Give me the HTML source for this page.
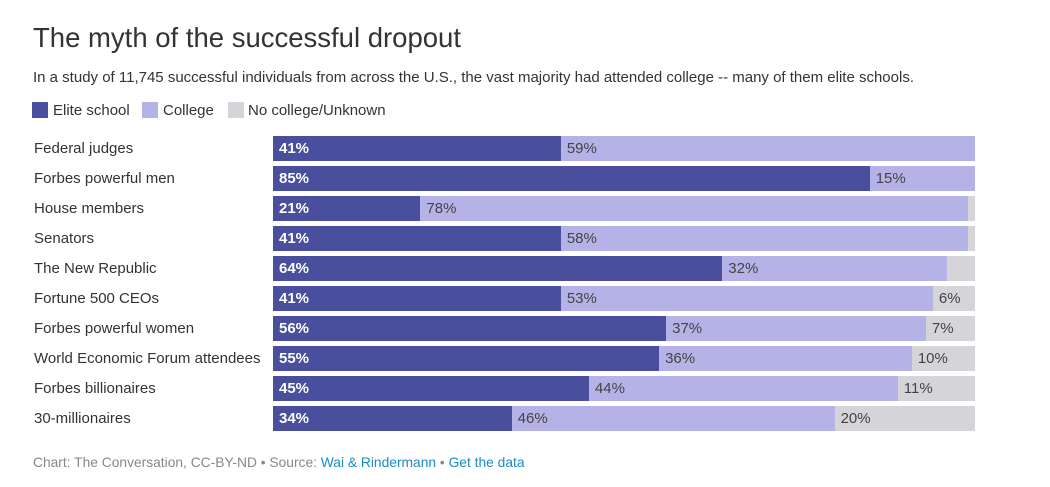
<!DOCTYPE html>
<html><head><meta charset="utf-8"><style>
body{margin:0;background:#fff;font-family:"Liberation Sans",sans-serif;width:1050px;height:487px;overflow:hidden;position:relative}
.t{position:absolute;white-space:nowrap}
</style></head><body>
<div class="t" style="left:33px;top:22px;font-size:27.5px;color:#333">The myth of the successful dropout</div>
<div class="t" style="left:33px;top:69px;font-size:15px;color:#333">In a study of 11,745 successful individuals from across the U.S., the vast majority had attended college -- many of them elite schools.</div>
<div style="position:absolute;left:32px;top:102px;font-size:15px;color:#333">
<span style="position:absolute;left:0;top:0;width:16px;height:16px;background:#494f9c"></span><span class="t" style="left:21px;top:0px">Elite school</span>
<span style="position:absolute;left:110px;top:0;width:16px;height:16px;background:#b4b2e6"></span><span class="t" style="left:131px;top:0px">College</span>
<span style="position:absolute;left:196px;top:0;width:16px;height:16px;background:#d5d5d9"></span><span class="t" style="left:216px;top:0px">No college/Unknown</span>
</div>
<div id="chart"></div>
<div class="t" style="left:33px;top:455px;font-size:13.8px;color:#888">Chart: The Conversation, CC-BY-ND • Source: <span style="color:#1a8bc4">Wai &amp; Rindermann</span> • <span style="color:#1a8bc4">Get the data</span></div>
<script>
const categories=["Federal judges","Forbes powerful men","House members","Senators","The New Republic","Fortune 500 CEOs","Forbes powerful women","World Economic Forum attendees","Forbes billionaires","30-millionaires"];
const elite=[41,85,21,41,64,41,56,55,45,34];
const college=[59,15,78,58,32,53,37,36,44,46];
const none=[0,0,1,1,4,6,7,10,11,20];
const noneLabels=["","","","","","6%","7%","10%","11%","20%"];
const X0=273,W=702,Y0=136,PITCH=30,H=25;
const xs=v=>v/100*W;
const chart=document.getElementById('chart');
function box(l,t,w,h,bg,name){const d=document.createElement('div');d.style.cssText=`position:absolute;left:${l}px;top:${t}px;width:${w}px;height:${h}px;background:${bg}`;


chart.appendChild(d);return d;}
function txt(l,t,s,css,name){const d=document.createElement('div');d.className='t';d.style.cssText=`left:${l}px;top:${t}px;font-size:15px;`+css;d.textContent=s;


chart.appendChild(d);}
categories.forEach((c,i)=>{
 const y=Y0+i*PITCH;
 txt(34,y+4,c,'color:#333','row-label');
 let a=xs(elite[i]),b=xs(college[i]),g=Math.min(xs(none[i]),W-a-b);
 box(X0,y,a,H,'#494f9c','bar-elite');
 box(X0+a,y,b,H,'#b4b2e6','bar-college');
 if(g>0)box(X0+a+b,y,g,H,'#d5d5d9','bar-none');
 txt(X0+6,y+4,elite[i]+'%','color:#fff;font-weight:bold','value-elite');
 txt(X0+a+6,y+4,college[i]+'%','color:#444','value-college');
 if(noneLabels[i])txt(X0+a+b+6,y+4,noneLabels[i],'color:#444','value-none');
});
</script>
</body></html>
